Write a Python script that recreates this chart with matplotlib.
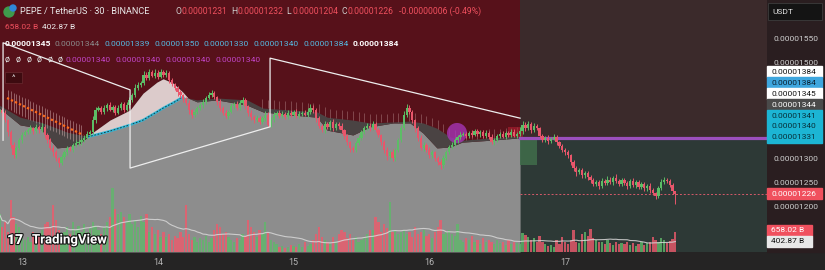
import numpy as np
import pandas as pd
import matplotlib
matplotlib.use("Agg")
import matplotlib.pyplot as plt
from matplotlib.patches import Rectangle, Ellipse
import matplotlib.patheffects as pe

plt.rcParams['font.family'] = ['Roboto', 'DejaVu Sans']

# PEPE / USDT, 30 min candles. prices in units of 1e-8 USDT
close = [1400, 1394, 1379, 1354, 1327, 1306, 1321, 1337, 1348, 1354,
         1358, 1362, 1356, 1365, 1358, 1365, 1348, 1337, 1321, 1312,
         1300, 1290, 1302, 1312, 1321, 1317, 1327, 1331, 1333, 1337,
         1342, 1350, 1354, 1379, 1400, 1404, 1396, 1404, 1410, 1400,
         1406, 1394, 1404, 1412, 1400, 1410, 1421, 1431, 1446, 1452,
         1456, 1473, 1467, 1479, 1471, 1477, 1469, 1479, 1473, 1477,
         1462, 1454, 1446, 1437, 1431, 1423, 1415, 1400, 1390, 1396,
         1404, 1410, 1417, 1425, 1431, 1435, 1427, 1417, 1404, 1394,
         1387, 1396, 1408, 1412, 1404, 1415, 1421, 1408, 1394, 1385,
         1379, 1383, 1375, 1383, 1390, 1369, 1379, 1390, 1394, 1387,
         1392, 1385, 1394, 1390, 1396, 1387, 1392, 1394, 1390, 1396,
         1404, 1400, 1383, 1367, 1358, 1371, 1365, 1375, 1362, 1371,
         1367, 1358, 1346, 1333, 1321, 1317, 1331, 1342, 1354, 1362,
         1367, 1362, 1371, 1358, 1348, 1333, 1317, 1304, 1312, 1300,
         1317, 1337, 1362, 1390, 1404, 1396, 1379, 1362, 1342, 1321,
         1327, 1317, 1306, 1312, 1300, 1292, 1285, 1300, 1312, 1323,
         1327, 1337, 1344, 1348, 1350, 1346, 1352, 1348, 1356, 1350,
         1354, 1346, 1352, 1344, 1333, 1337, 1346, 1350, 1344, 1352,
         1348, 1354, 1346, 1350, 1356, 1369, 1362, 1371, 1358, 1367,
         1362, 1346, 1337, 1342, 1335, 1340, 1344, 1333, 1325, 1317,
         1312, 1306, 1292, 1279, 1271, 1275, 1265, 1269, 1260, 1254,
         1246, 1250, 1242, 1252, 1248, 1254, 1250, 1258, 1252, 1246,
         1254, 1248, 1242, 1252, 1244, 1250, 1240, 1246, 1237, 1242,
         1233, 1227, 1221, 1237, 1250, 1254, 1252, 1244, 1232, 1226]
first_open = 1396
last_open = 1231

up_wick = [6, 4, 5, 3, 4, 6, 5, 4, 7, 5,
           4, 6, 3, 5, 4, 7, 3, 5, 4, 6,
           5, 3, 6, 4, 5, 3, 4, 6, 5, 4,
           5, 6, 4, 8, 6, 5, 4, 7, 5, 6,
           4, 5, 6, 4, 5, 7, 6, 5, 8, 6,
           5, 9, 6, 7, 5, 8, 6, 7, 5, 6,
           4, 5, 3, 4, 5, 3, 4, 5, 3, 6,
           5, 4, 6, 5, 7, 6, 4, 3, 5, 4,
           6, 5, 7, 4, 6, 5, 7, 4, 3, 5,
           4, 6, 5, 4, 7, 5, 6, 5, 4, 6,
           5, 4, 6, 5, 4, 6, 5, 4, 6, 9,
           8, 6, 4, 5, 4, 6, 5, 4, 6, 5,
           4, 5, 3, 4, 3, 5, 4, 6, 5, 4,
           6, 5, 7, 4, 5, 3, 4, 5, 3, 6,
           4, 5, 7, 8, 9, 6, 4, 3, 4, 5,
           6, 4, 5, 4, 3, 4, 5, 6, 5, 4,
           6, 5, 4, 6, 5, 4, 5, 6, 4, 5,
           4, 5, 6, 4, 5, 4, 5, 4, 6, 5,
           4, 6, 7, 5, 8, 9, 6, 7, 5, 6,
           4, 3, 5, 4, 5, 4, 6, 4, 3, 4,
           3, 4, 3, 4, 5, 4, 5, 4, 3, 5,
           4, 5, 4, 6, 5, 8, 6, 5, 8, 5,
           4, 5, 4, 5, 6, 4, 5, 4, 5, 4,
           5, 4, 3, 5, 6, 7, 5, 4, 3, 1]
dn_wick = [5, 6, 4, 8, 7, 5, 6, 4, 5, 3,
           4, 5, 6, 3, 5, 4, 6, 5, 4, 7,
           6, 8, 5, 4, 6, 3, 5, 4, 3, 5,
           4, 3, 5, 4, 6, 3, 5, 4, 6, 3,
           5, 4, 3, 5, 4, 3, 6, 4, 3, 5,
           4, 3, 5, 4, 3, 5, 4, 3, 4, 5,
           6, 4, 5, 7, 5, 6, 4, 8, 6, 5,
           4, 3, 5, 4, 3, 4, 5, 6, 7, 5,
           4, 6, 3, 5, 4, 3, 5, 6, 7, 5,
           6, 4, 5, 4, 6, 5, 4, 3, 5, 4,
           3, 4, 3, 5, 4, 3, 4, 5, 3, 4,
           5, 6, 7, 5, 4, 5, 4, 6, 5, 4,
           6, 5, 7, 6, 8, 5, 4, 3, 4, 5,
           4, 5, 3, 4, 5, 6, 7, 8, 6, 7,
           6, 5, 4, 3, 4, 5, 6, 7, 6, 5,
           6, 5, 7, 5, 6, 7, 8, 6, 5, 4,
           4, 3, 5, 4, 3, 4, 5, 4, 3, 5,
           6, 4, 5, 4, 3, 5, 4, 5, 3, 4,
           5, 4, 3, 5, 4, 6, 5, 4, 5, 3,
           4, 5, 4, 3, 5, 4, 3, 5, 4, 5,
           6, 5, 7, 6, 8, 5, 6, 7, 5, 6,
           5, 4, 6, 5, 4, 5, 4, 6, 5, 4,
           5, 4, 6, 5, 4, 6, 5, 4, 6, 5,
           6, 5, 7, 4, 3, 4, 5, 4, 6, 22]

# volume, billions of PEPE
volume_b = [1254, 825, 990, 660, 1716, 1155, 924, 825, 594, 396,
            495, 330, 660, 462, 528, 726, 924, 990, 825, 1551,
            1056, 726, 594, 660, 825, 594, 990, 726, 858, 660,
            924, 660, 792, 990, 858, 726, 594, 825, 990, 1155,
            2112, 1419, 1254, 1320, 1155, 990, 1254, 924, 1056, 825,
            1188, 990, 1254, 660, 825, 594, 726, 495, 660, 495,
            594, 396, 528, 462, 660, 495, 1551, 594, 396, 495,
            330, 462, 396, 528, 330, 462, 726, 924, 825, 594,
            660, 495, 396, 330, 462, 396, 594, 528, 1056, 825,
            660, 495, 726, 594, 990, 660, 396, 330, 264, 165,
            198, 132, 165, 231, 198, 165, 264, 165, 330, 198,
            264, 396, 594, 825, 495, 396, 330, 264, 495, 330,
            594, 726, 660, 462, 594, 396, 495, 330, 396, 495,
            594, 726, 726, 1155, 990, 660, 924, 792, 1650, 660,
            726, 594, 660, 726, 594, 660, 495, 825, 594, 660,
            726, 528, 594, 462, 660, 825, 1056, 594, 660, 726,
            594, 528, 924, 396, 330, 462, 396, 528, 330, 396,
            264, 462, 330, 396, 330, 264, 396, 297, 330, 231,
            396, 264, 330, 297, 264, 627, 561, 495, 396, 462,
            330, 528, 330, 264, 198, 231, 165, 396, 264, 495,
            330, 264, 396, 726, 330, 297, 594, 660, 528, 759,
            462, 396, 330, 330, 264, 396, 297, 231, 330, 264,
            297, 264, 330, 231, 297, 198, 264, 330, 231, 297,
            330, 495, 396, 330, 462, 396, 297, 363, 429, 658.02]

day_labels = ['13', '14', '15', '16', '17']
day_start = [8, 56, 104, 152, 200]

# indicator cloud (candle index, price)
cloud_x = [0, 7.3, 14.4, 20.4, 23.9, 28.5, 31.3,
           39.1, 46.2, 50.8, 55.7, 57.9, 61.4, 64.9, 66.7,
           69.9, 77.0, 87.6, 93.2, 102.8, 112.3, 115.9, 125.0, 131.1, 139.2,
           145.2, 149.8, 154.7, 159.4, 163.6, 173.5, 184.1]
cloud_top = [1410, 1385, 1375, 1362, 1354, 1348, 1346,
             1379, 1400, 1435, 1458, 1465, 1456, 1437, 1425,
             1421, 1425, 1421, 1404, 1400, 1396, 1385, 1379, 1373, 1375,
             1377, 1373, 1362, 1344, 1337, 1342, 1346]
cloud_bot = [1404, 1369, 1362, 1321, 1323, 1331, 1344,
             1356, 1369, 1379, 1396, 1404, 1415, 1427, 1425,
             1417, 1421, 1410, 1396, 1390, 1385, 1358, 1348, 1365, 1373,
             1373, 1352, 1321, 1323, 1333, 1337, 1342]
hump_from, hump_to = 31.3, 66.7

zigzag_x = [1.3, 1.3, 46.2, 46.2, 95.7, 95.7, 184.1]
zigzag_y = [1337, 1540, 1442, 1279, 1365, 1508, 1383]
orange_x = [2.7, 29.6]
orange_y = [1425, 1348]
session_end = 184.1
level_price = 1341
circle_at = (161.8, 1352)

legend_ohlc = ['0.00001231', '0.00001232', '0.00001204', '0.00001226']
legend_change = '-0.00000006 (-0.49%)'
vol_labels = ['658.02 B', '402.87 B']
ma_values = ['0.00001345', '0.00001344', '0.00001339', '0.00001350', '0.00001330',
             '0.00001340', '0.00001384', '0.00001384']
mag_values = ['0.00001340'] * 4
scale_values = ['0.00001384', '0.00001384', '0.00001345', '0.00001344',
                '0.00001341', '0.00001340', '0.00001331']
scale_ticks = [1200, 1250, 1300, 1500, 1550]

W, H = 825, 270
P_TOP, P_BOT = 1629.17, 1104.17
X0, X1 = 0.22, 271.4
UP, DN = '#5cbd66', '#e8566b'

fig = plt.figure(figsize=(W / 100, H / 100), dpi=100)
fig.patch.set_facecolor('#252424')
fig.add_artist(Rectangle((767 / W, 18 / H), 58 / W, 252 / H, transform=fig.transFigure,
                         color='#2a1e20', zorder=-1))

ax = fig.add_axes([0, 18 / H, 767 / W, 252 / H])
ax.set_xlim(X0, X1)
ax.set_ylim(P_BOT, P_TOP)
ax.set_facecolor('#2d3936')
for s in ax.spines.values():
    s.set_visible(False)

# backgrounds
ax.axvspan(-2, session_end, color='#57111a', lw=0, zorder=0)
ax.add_patch(Rectangle((session_end, level_price), X1 - session_end, P_TOP - level_price,
                       color='#3b2a2b', lw=0, zorder=0))

cx = np.array(cloud_x)
ax.fill_between(cx, cloud_bot, P_BOT, color='#8d8d8d', lw=0, zorder=1)
ax.fill_between(cx, cloud_bot, cloud_top, color='#4a4343', lw=0, zorder=1.1)
hump = (cx >= hump_from) & (cx <= hump_to)
ax.fill_between(cx, cloud_bot, cloud_top, where=hump, color='#dccbcb', lw=0, zorder=1.2)
ax.plot(cx[hump][:-1], np.array(cloud_bot)[hump][:-1], color='#35b8d6', lw=1.8, zorder=1.3)
ax.plot(cx[hump][:-1], np.array(cloud_bot)[hump][:-1], color='#10303a', lw=0.6,
        ls=(0, (2, 2)), zorder=1.4)

# ghost ticks along the orange line and the band top
tick_i = np.arange(3, 30)
tick_c = np.interp(tick_i, orange_x, orange_y)
ax.vlines(tick_i, tick_c - 22, tick_c + 18, color='#dcb8b8', alpha=0.55, lw=0.6, zorder=1.5)
ax.plot(orange_x, orange_y, color='#ff6a1a', lw=1.6, ls=(0, (1, 1)), zorder=1.6)
tick_j = np.arange(93, 184, 2)
tick_t = np.interp(tick_j, cx, cloud_top)
ax.vlines(tick_j, tick_t, tick_t + 18, color='#dcb8b8', alpha=0.45, lw=0.5, zorder=1.5)

# position tool boxes, level and marker
ax.add_patch(Rectangle((179.8, 1344), 5.3, 21, color='#b02030', alpha=0.6, lw=0, zorder=2))
ax.add_patch(Rectangle((session_end, 1285), 6.0, 59, color='#3f6b4a', alpha=0.9, lw=0, zorder=2))
ax.add_patch(Ellipse(circle_at, 7.1, 42, color='#a535b5', alpha=0.8, lw=0, zorder=2))
ax.plot([session_end, X1], [level_price, level_price], color='#9c4fbd', lw=2.3, zorder=3)
ax.hlines(close[-1], session_end, X1, colors='#d65a6a', lw=0.7, ls=(0, (2, 2)), zorder=3)

# candles
idx = np.arange(len(close))
c = np.array(close, float)
o = np.array([first_open] + close[:-1], float)
o[-1] = last_open
hi = np.maximum(o, c) + np.array(up_wick)
lo = np.minimum(o, c) - np.array(dn_wick)
cols = np.where(c >= o, UP, DN)
ax.vlines(idx, lo, hi, colors=cols, lw=0.7, zorder=5)
body = np.where(np.abs(c - o) < 2, 2, c - o)
ax.bar(idx, body, bottom=o, width=0.8, color=cols, lw=0, zorder=5)

# drawings
ax.plot(zigzag_x, zigzag_y, color='#eeeeee', lw=0.9, zorder=6)

# axes ticks
ax.yaxis.tick_right()
ax.set_yticks(scale_ticks)
ax.set_yticklabels([f'0.0000{v}' for v in scale_ticks])
ax.tick_params(axis='y', length=0, pad=5, labelsize=6, labelcolor='#cfcfcf')
ax.set_xticks(day_start)
ax.set_xticklabels(day_labels)
ax.tick_params(axis='x', length=0, pad=4, labelsize=6.5, labelcolor='#b5b5b5')

# volume pane
vax = fig.add_axes([0, 18 / H, 767 / W, 252 / H])
vax.set_xlim(X0, X1)
vax.set_ylim(0, 252 * 33)
vax.axis('off')
vcols = np.where(c >= o, '#5fb86a', '#ee5a6c')
vax.bar(idx, volume_b, width=0.8, color=vcols, alpha=0.8, lw=0)
vma = pd.Series(volume_b).rolling(20, min_periods=1).mean()
vax.plot(idx, vma, color='#d8d8d8', lw=0.8, alpha=0.85)


def fx(x):
    return x / W


def fy(y):
    return 1 - y / H


def label_box(yc, text, bg, fg, x0=767, x1=822, h=11):
    fig.add_artist(Rectangle((fx(x0), fy(yc + h / 2)), (x1 - x0) / W, h / H,
                             transform=fig.transFigure, color=bg, zorder=4))
    fig.text(fx(x0 + 4), fy(yc), text, color=fg, fontsize=6, va='center', ha='left', zorder=5)


# right scale labels
scale_bg = ['#ffffff', '#3ea6de', '#ffffff', '#4a4a4a', '#1cb5d4', '#1cb5d4', '#1cb5d4']
scale_fg = ['#111111', '#0b2030', '#111111', '#ffffff', '#07303a', '#07303a', '#07303a']
for k, v in enumerate(scale_values):
    label_box(72 + k * 10.9, v, scale_bg[k], scale_fg[k])
y_last = H - ax.transData.transform((0, close[-1]))[1]
label_box(y_last, f'0.0000{close[-1]}', '#f0505e', '#ffffff')
label_box(230, vol_labels[0], '#f0505e', '#ffffff', x1=812)
label_box(241, vol_labels[1], '#e8e8e8', '#111111', x1=812)

# USDT button
fig.add_artist(Rectangle((fx(768), fy(20)), 54 / W, 17 / H, transform=fig.transFigure,
                         fc='#141414', ec='#3c3c3c', lw=0.6, zorder=4))
fig.text(fx(772), fy(11.5), 'USDT', color='#e0e0e0', fontsize=6, va='center', zorder=5)

# header legend
fig.add_artist(Ellipse((fx(9), fy(12)), 10 / W, 10 / H, transform=fig.transFigure,
                       color='#3f9a4c', zorder=4))
fig.add_artist(Ellipse((fx(13), fy(8)), 6 / W, 6 / H, transform=fig.transFigure,
                       color='#2f86d8', zorder=4))
fig.text(fx(20), fy(11), 'PEPE / TetherUS · 30 · BINANCE', color='#e8e8e8', fontsize=6.6,
         va='center')
for k, (let, val) in enumerate(zip('OHLC', legend_ohlc)):
    x = 176 + k * 55.3
    fig.text(fx(x), fy(11), let, color='#d0d0d0', fontsize=6.2, va='center')
    fig.text(fx(x + 6), fy(11), val, color='#f0505e', fontsize=6.2, va='center')
fig.text(fx(399), fy(11), legend_change, color='#f0505e', fontsize=6.2, va='center')

fig.text(fx(5), fy(27), vol_labels[0], color='#f0505e', fontsize=6, va='center')
fig.text(fx(42), fy(27), vol_labels[1], color='#ececec', fontsize=6, va='center')

ma_cols = ['#ffffff', '#8a8a8a'] + ['#55b8e0'] * 5 + ['#ffffff']
for k, v in enumerate(ma_values):
    bold = ma_cols[k] == '#ffffff'
    fig.text(fx(5 + k * 49.7), fy(44), v, color=ma_cols[k], fontsize=6.1, va='center',
             fontweight='bold' if bold else 'normal')
for k in range(6):
    fig.text(fx(5 + k * 10.6), fy(60), 'ø', color='#e0e0e0', fontsize=6.4, va='center')
for k, v in enumerate(mag_values):
    fig.text(fx(65 + k * 50), fy(60), v, color='#c044c4', fontsize=6.1, va='center')

# collapse button
fig.add_artist(Rectangle((fx(5), fy(83)), 17 / W, 11 / H, transform=fig.transFigure,
                         fc='#3d0b10', ec='#6a2a30', lw=0.5, zorder=4))
fig.text(fx(13.5), fy(78), '^', color='#e0e0e0', fontsize=6, ha='center', va='center', zorder=5)

# watermark
stroke = [pe.withStroke(linewidth=1.6, foreground='#111111')]
fig.text(fx(7), fy(240), '17', color='#ffffff', fontsize=10, fontweight='heavy', va='center',
         path_effects=stroke)
fig.text(fx(32), fy(240), 'TradingView', color='#ffffff', fontsize=9.5, fontweight='bold',
         va='center', path_effects=stroke)

fig.savefig('out.png', dpi=100, facecolor=fig.get_facecolor())
